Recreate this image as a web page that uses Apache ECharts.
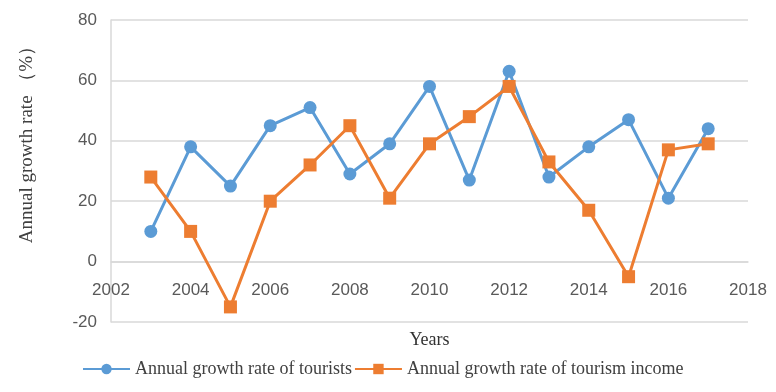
<!DOCTYPE html>
<html>
<head>
<meta charset="utf-8">
<script src="https://cdn.jsdelivr.net/npm/echarts@6/dist/echarts.min.js"></script>
<style>
  html, body { margin: 0; padding: 0; background: #fff; }
  #chart { width: 776px; height: 392px; }
</style>
</head>
<body>
<div id="chart"></div>
<script>
// years on the x axis
var years = [2003, 2004, 2005, 2006, 2007, 2008, 2009, 2010, 2011, 2012, 2013, 2014, 2015, 2016, 2017];
// annual growth rate of tourists (%)
var tourists = [10, 38, 25, 45, 51, 29, 39, 58, 27, 63, 28, 38, 47, 21, 44];
// annual growth rate of tourism income (%)
var income = [28, 10, -15, 20, 32, 45, 21, 39, 48, 58, 33, 17, -5, 37, 39];

var seriesNames = ["Annual growth rate of tourists", "Annual growth rate of tourism income"];
var yName = "Annual growth rate （%）";
var xName = "Years";

var yMin = -20, yMax = 80;

function pairs(vals) {
  return years.map(function (y, i) { return [y, vals[i]]; });
}

var myChart = echarts.init(document.getElementById("chart"));
var serif = "'Liberation Serif', 'Times New Roman', serif";
var sans = "'Liberation Sans', Arial, sans-serif";

// plot height, used to lift the year axis up to the zero line
var plotH = 392 - 20 - 70;
var zeroLift = -plotH * (0 - yMin) / (yMax - yMin);

myChart.setOption({
  animation: false,
  grid: { left: 111, right: 28, top: 20, bottom: 70, outerBoundsMode: "none" },
  legend: {
    left: 77,
    top: 355,
    itemWidth: 47,
    itemHeight: 13,
    itemGap: 2,
    textStyle: { fontFamily: serif, fontSize: 18, color: "#404040" },
    data: seriesNames
  },
  xAxis: {
    type: "value",
    min: 2002,
    max: 2018,
    interval: 2,
    offset: zeroLift,
    name: xName,
    nameLocation: "middle",
    nameGap: 70,
    nameTextStyle: { fontFamily: serif, fontSize: 18, color: "#333" },
    axisLine: { show: true, onZero: false, lineStyle: { color: "#d9d9d9", width: 1.5 } },
    axisTick: { show: false },
    splitLine: { show: false },
    axisLabel: {
      margin: 20,
      fontFamily: sans,
      fontSize: 17,
      color: "#595959",
      showMinLabel: true,
      showMaxLabel: true,
      formatter: function (v) { return String(v); }
    }
  },
  yAxis: {
    type: "value",
    min: yMin,
    max: yMax,
    interval: 20,
    axisLine: { show: true, onZero: false, lineStyle: { color: "#d9d9d9", width: 1.5 } },
    axisTick: { show: false },
    splitLine: { lineStyle: { color: "#d9d9d9", width: 1.5 } },
    axisLabel: {
      margin: 14,
      fontFamily: sans,
      fontSize: 17,
      color: "#595959"
    }
  },
  graphic: [{
    type: "text",
    x: 27,
    y: 140,
    rotation: Math.PI / 2,
    style: {
      text: yName,
      fontFamily: serif,
      fontSize: 19,
      fill: "#404040",
      align: "center",
      verticalAlign: "middle"
    }
  }],
  series: [
    {
      name: seriesNames[0],
      type: "line",
      data: pairs(tourists),
      symbol: "circle",
      symbolSize: 13,
      lineStyle: { color: "#5b9bd5", width: 3 },
      itemStyle: { color: "#5b9bd5" }
    },
    {
      name: seriesNames[1],
      type: "line",
      data: pairs(income),
      symbol: "rect",
      symbolSize: 13,
      lineStyle: { color: "#ed7d31", width: 3 },
      itemStyle: { color: "#ed7d31" }
    }
  ]
});
</script>
</body>
</html>
